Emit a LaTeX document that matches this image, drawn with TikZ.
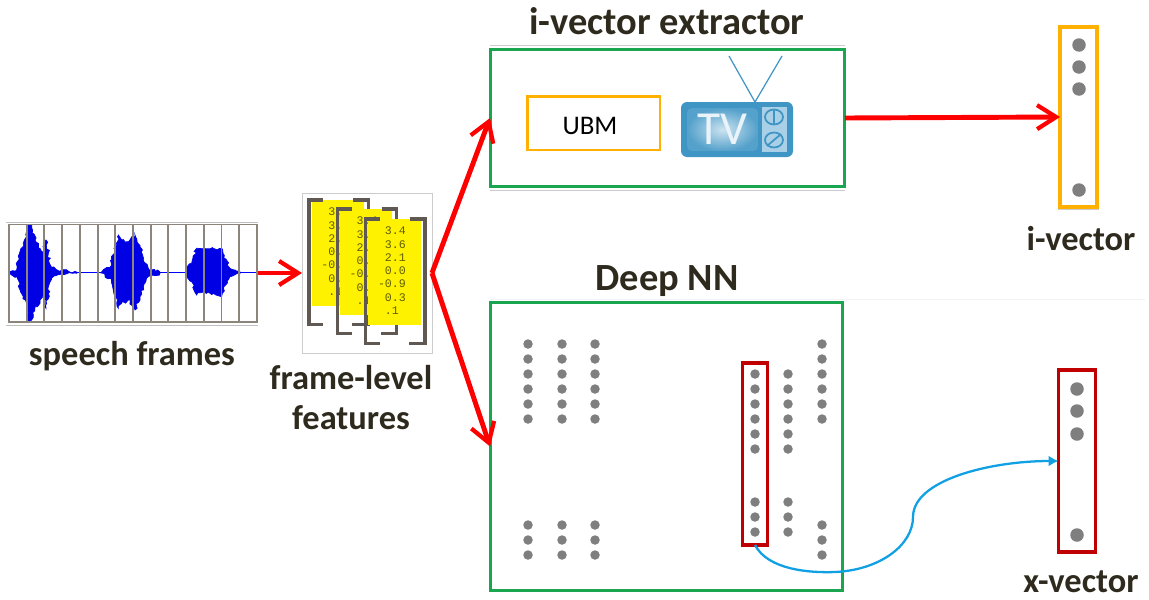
\documentclass[tikz,border=0pt]{standalone}
\usepackage{fontspec}
\setmainfont{Carlito}
\setmonofont{Liberation Mono}
\usetikzlibrary{arrows.meta,shapes.geometric,decorations.pathmorphing}
\definecolor{boxgreen}{HTML}{1AA650}
\definecolor{boxorange}{HTML}{FFB000}
\definecolor{boxred}{HTML}{C00000}
\definecolor{labeltext}{HTML}{2E2A1E}
\definecolor{dotgray}{HTML}{7F7F7F}
\definecolor{curveblue}{HTML}{12A0E4}
\definecolor{tvblue}{HTML}{3F95C4}
\definecolor{tvlight}{HTML}{A9D0E6}
\definecolor{bracketgray}{HTML}{5F5853}
\definecolor{framegray}{HTML}{8C857C}
\definecolor{numtext}{HTML}{5F5E00}

\begin{document}
\begin{tikzpicture}[
	x=0.02cm, y=-0.02cm,
	title/.style={font=\fontsize{19.6}{22.7}\selectfont\bfseries, text=labeltext, align=center, inner sep=0},
	bigtitle/.style={font=\fontsize{21.9}{24}\selectfont\bfseries, text=labeltext, anchor=base, inner sep=0},
	panel/.style={draw=boxgreen, line width=1.7pt, inner sep=0, outer sep=0},
	vecbox/.style={line width=1.9pt, inner sep=0, outer sep=0, minimum width=0.74cm},
	dot/.style={circle, fill=dotgray, inner sep=0, minimum size=0.19cm},
	bigdot/.style={circle, fill=dotgray, inner sep=0, minimum size=0.27cm},
	bigred/.style={-{Straight Barb[length=0.38cm, width=0.48cm, line width=2.4pt]}, red, line width=2.8pt},
	vals/.style={font=\fontsize{6.6}{7.55}\selectfont\ttfamily, text=numtext, align=left, inner sep=0, anchor=north west},
	wave/.style={fill=blue!90!black, draw=blue!90!black, thin, decorate, decoration={random steps, segment length=1.5pt, amplitude=0.9pt}},
	knob/.style={draw=tvblue, fill=tvlight, ellipse, line width=1pt, inner sep=0, minimum width=0.36cm, minimum height=0.3cm},
	]
\useasboundingbox (0,0) rectangle (1149,599);
\pgfmathsetseed{7}

% titles
\node[title, anchor=base] (lspeech) at (132,365) {speech frames};
\node[title] (lfeat) at (351,397.5) {frame-level\\features};
\node[bigtitle] (lextractor) at (667,34) {i-vector extractor};
\node[bigtitle] (ldeep) at (667,290) {Deep NN};
\node[title, anchor=base] (livec) at (1081,250) {i-vector};
\node[title, anchor=base] (lxvec) at (1081,592) {x-vector};

% speech frames
\node[minimum width=5.04cm, minimum height=2.06cm, inner sep=0, outer sep=0] (frames) at (132.5,273) {};
\draw[gray!50, thin] (6,222) -- (258,222) (6,325) -- (258,325);
\begin{scope}[shift={(0,180)}, scale=0.3333]
\draw[blue, thin] (27,278) -- (770,278);
\path[wave] (30,275) -- (50,270) -- (60,215) -- (70,190) -- (80,170) -- (88,135) -- (95,135) -- (105,180) -- (120,205) -- (130,215) -- (138,180) -- (145,220) -- (155,262) -- (175,272) -- (230,276)
	-- (230,280) -- (175,284) -- (155,295) -- (145,340) -- (138,385) -- (130,340) -- (120,370) -- (105,380) -- (95,420) -- (88,425) -- (80,370) -- (70,350) -- (60,330) -- (50,290) -- (30,281) -- cycle;
\path[wave] (305,275) -- (330,262) -- (345,210) -- (355,165) -- (365,180) -- (385,185) -- (405,165) -- (420,200) -- (430,240) -- (445,265) -- (480,276)
	-- (480,280) -- (445,290) -- (430,320) -- (420,350) -- (405,390) -- (385,360) -- (365,370) -- (355,385) -- (345,345) -- (330,295) -- (305,281) -- cycle;
\path[wave] (560,265) -- (575,250) -- (590,205) -- (610,205) -- (640,205) -- (665,205) -- (672,235) -- (690,265) -- (720,275)
	-- (720,281) -- (690,290) -- (672,320) -- (665,350) -- (640,340) -- (610,335) -- (590,345) -- (575,305) -- (560,290) -- cycle;
\end{scope}
\draw[framegray, line width=1.1pt] (9,224.5) rectangle (257,322);
\foreach \i in {1,...,13}
	\draw[framegray, line width=1.1pt] (9+17.71*\i,224.5) -- (9+17.71*\i,322);

% frame-level features
\node[draw=gray!40, thin, minimum width=2.6cm, minimum height=3.2cm, inner sep=0, outer sep=0] (feat) at (367,273) {};
\begin{scope}[shift={(300,190)}, scale=0.3333]
\foreach \dx/\dy in {0/0, 85/27, 170/57} {
	\fill[yellow] (35+\dx,30+\dy) rectangle (192+\dx,318+30+\dy);
	\draw[bracketgray, line width=1.9pt] (70+\dx,30+\dy) -- (27+\dx,30+\dy) -- (27+\dx,403+\dy) -- (70+\dx,403+\dy);
	\draw[bracketgray, line width=1.9pt] (160+\dx,30+\dy) -- (205+\dx,30+\dy) -- (205+\dx,403+\dy) -- (157+\dx,403+\dy);
	\node[vals] (vals\dx) at (63+\dx,53+\dy) {\phantom{-}3.4\\\phantom{-}3.6\\\phantom{-}2.1\\\phantom{-}0.0\\-0.9\\\phantom{-}0.3\\\phantom{-}.1};
}
\end{scope}

% i-vector extractor
\draw[gray!40, thin] (490,45) -- (845,45) (490,190) -- (845,190);
\node[panel, minimum width=7.1cm, minimum height=2.76cm] (extractor) at (667.5,118) {};
\node[draw=boxorange, line width=1.7pt, inner sep=0, minimum width=2.66cm, minimum height=1.08cm] (ubm) at (593.5,123) {};
\node[font=\fontsize{15.3}{17}\selectfont, inner sep=0] (ubmtext) at (590,126) {UBM};
\node[fill=tvblue, rounded corners=0.12cm, inner sep=0, minimum width=2.24cm, minimum height=1.1cm] (tv) at (737,129.5) {};
\node[inner color=tvlight!60!white, outer color=tvblue!80!tvlight, rounded corners=0.1cm, inner sep=0, minimum width=1.42cm, minimum height=0.86cm, font=\fontsize{27}{27}\selectfont, text=white!75!tvlight] (screen) at (722.5,129.5) {TV};
\node[fill=tvlight, inner sep=0, minimum width=0.5cm, minimum height=0.9cm] (knobs) at (774.5,129.5) {};
\node[knob] (knoba) at (774,117) {};
\node[knob] (knobb) at (774,140) {};
\draw[tvblue, line width=1pt] (knoba.north) -- (knoba.south);
\draw[tvblue, line width=1pt] (knobb.south west) -- (knobb.north east);
\coordinate (ante) at (755,102);
\coordinate (antl) at (729,56);
\coordinate (antr) at (782,56);
\draw[tvblue, line width=0.7pt] (antl) -- (ante) -- (antr);

% i-vector
\draw[gray!40, thin] (1058.5,26) -- (1058.5,209) -- (1099,209);
\node[draw=boxorange, vecbox, minimum height=3.6cm] (ivec) at (1078.5,117) {};
\foreach \y in {45,67,89,190}
	\node[bigdot] (iv\y) at (1079,\y) {};

% deep NN
\draw[gray!10, thin] (490,299) -- (1145,299);
\node[panel, minimum width=7.06cm, minimum height=5.78cm] (deep) at (666.5,446.5) {};
\foreach \x in {528,562,595}
	\foreach \y in {344,359,374,389,404,419,525,540,555}
		\node[dot] (n\x-\y) at (\x,\y) {};
\foreach \x in {755,788}
	\foreach \y in {374,389,404,419,434,449,502,517,532}
		\node[dot] (n\x-\y) at (\x,\y) {};
\foreach \y in {344,359,374,389,404,419,525,540,555}
	\node[dot] (n822-\y) at (822,\y) {};
\node[draw=boxred, line width=1.9pt, inner sep=0, outer sep=0, minimum width=0.5cm, minimum height=3.64cm] (layer) at (755,454) {};

% x-vector
\node[draw=boxred, vecbox, minimum height=3.64cm] (xvec) at (1077,461) {};
\foreach \y in {389,411,434,535}
	\node[bigdot] (xv\y) at (1077,\y) {};

% connectors
\draw[bigred] (frames.east) -- (feat.west);
\draw[bigred] (feat.east) -- (extractor.west);
\draw[bigred] (feat.east) -- (deep.west);
\draw[bigred] (extractor.east) -- (ivec.west);
\draw[-{Latex[length=0.2cm, width=0.22cm]}, curveblue, line width=1.3pt] (layer.south) .. controls (768,570) and (810,573) .. (835,572) .. controls (880,570) and (913,545) .. (913,517) .. controls (913,480) and (990,461) .. (xvec.west);
\end{tikzpicture}
\end{document}
